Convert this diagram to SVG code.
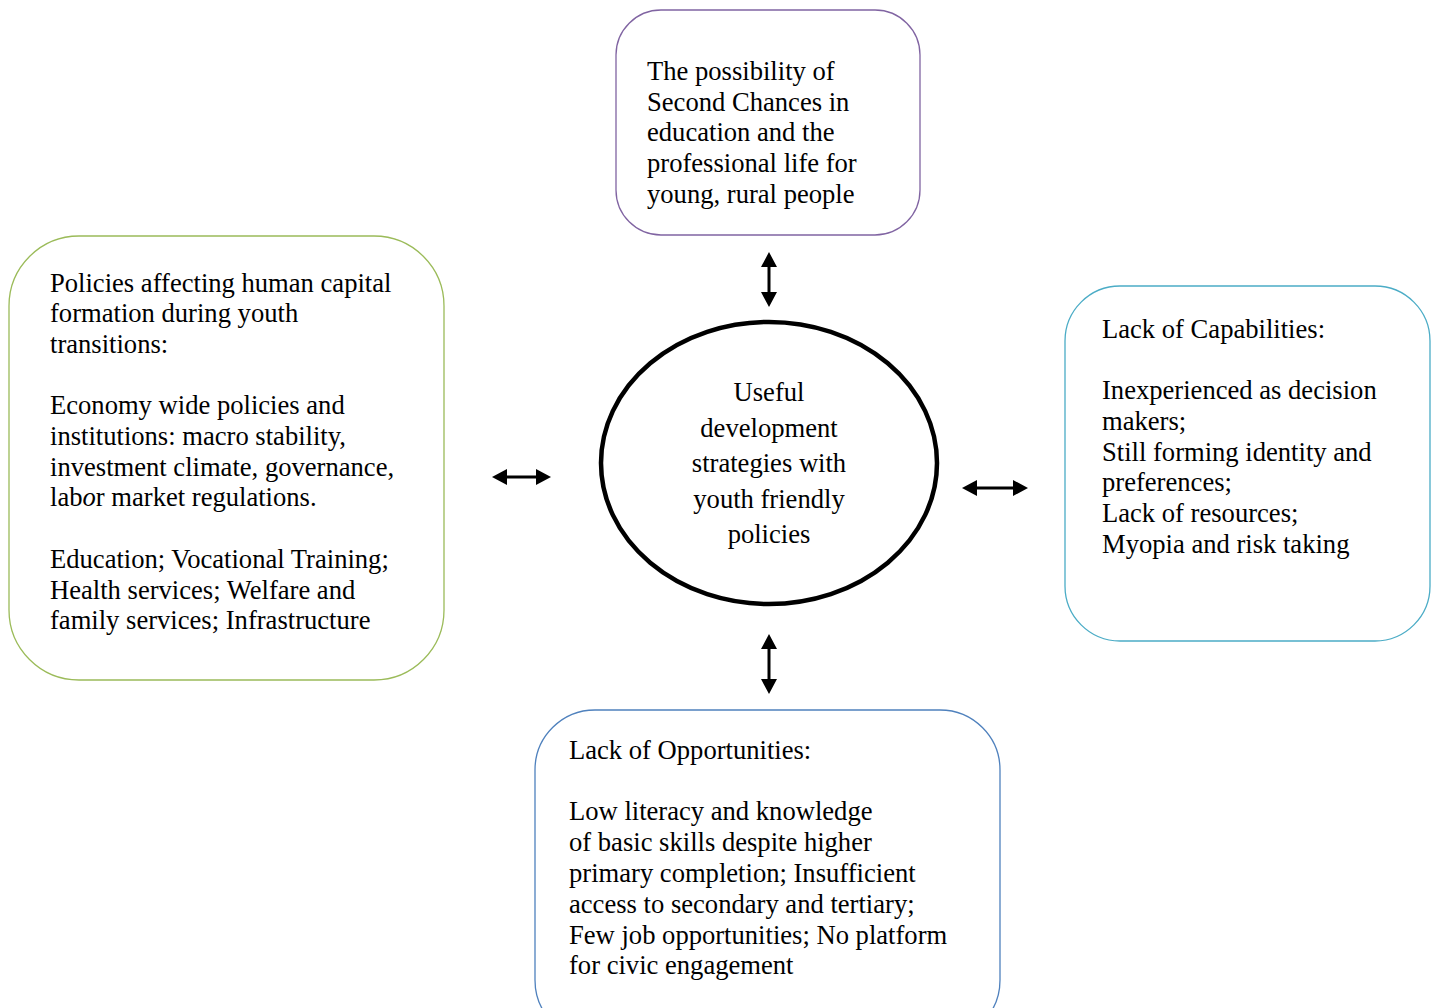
<svg xmlns="http://www.w3.org/2000/svg" width="1437" height="1008" viewBox="0 0 1437 1008">
<style>
.box{fill:#fff;stroke-width:1.3}
.t{font-family:'Liberation Serif','Times New Roman','DejaVu Serif',serif;font-size:26.6px;fill:#000}
.c{text-anchor:middle}
.conn{stroke:#000;stroke-width:3;fill:none}
.head{fill:#000;stroke:none}
</style>
<rect width="1437" height="1008" fill="#fff"/>
<g id="top">
<rect class="box" x="616" y="10" width="304" height="225" rx="45" stroke="#8064a2"/>
<text class="t"><tspan x="647" y="80">The possibility of</tspan><tspan x="647" y="111">Second Chances in</tspan><tspan x="647" y="141">education and the</tspan><tspan x="647" y="172">professional life for</tspan><tspan x="647" y="203">young, rural people</tspan></text>
</g>
<g id="left">
<rect class="box" x="9" y="236" width="435" height="444" rx="70" stroke="#9bbb59"/>
<text class="t"><tspan x="50" y="292">Policies affecting human capital</tspan><tspan x="50" y="322">formation during youth</tspan><tspan x="50" y="353">transitions:</tspan><tspan x="50" y="414">Economy wide policies and</tspan><tspan x="50" y="445">institutions: macro stability,</tspan><tspan x="50" y="476">investment climate, governance,</tspan><tspan x="50" y="506">lab<tspan font-style="italic">o</tspan>r market regulations.</tspan><tspan x="50" y="568">Education; Vocational Training;</tspan><tspan x="50" y="599">Health services; Welfare and</tspan><tspan x="50" y="629">family services; Infrastructure</tspan></text>
</g>
<g id="center">
<ellipse cx="769" cy="463" rx="168" ry="141" fill="#fff" stroke="#000" stroke-width="4.5"/>
<text class="t c"><tspan x="769" y="401">Useful</tspan><tspan x="769" y="437">development</tspan><tspan x="769" y="472">strategies with</tspan><tspan x="769" y="508">youth friendly</tspan><tspan x="769" y="543">policies</tspan></text>
</g>
<g id="right">
<rect class="box" x="1065" y="286" width="365" height="355" rx="55" stroke="#4bacc6"/>
<text class="t"><tspan x="1102" y="338">Lack of Capabilities:</tspan><tspan x="1102" y="399">Inexperienced as decision</tspan><tspan x="1102" y="430">makers;</tspan><tspan x="1102" y="461">Still forming identity and</tspan><tspan x="1102" y="491">preferences;</tspan><tspan x="1102" y="522">Lack of resources;</tspan><tspan x="1102" y="553">Myopia and risk taking</tspan></text>
</g>
<g id="bottom">
<rect class="box" x="535" y="710" width="465" height="330" rx="60" stroke="#4f81bd"/>
<text class="t"><tspan x="569" y="759">Lack of Opportunities:</tspan><tspan x="569" y="820">Low literacy and knowledge</tspan><tspan x="569" y="851">of basic skills despite higher</tspan><tspan x="569" y="882">primary completion; Insufficient</tspan><tspan x="569" y="913">access to secondary and tertiary;</tspan><tspan x="569" y="944">Few job opportunities; No platform</tspan><tspan x="569" y="974">for civic engagement</tspan></text>
</g>
<g id="connectors">
<line class="conn" x1="769" y1="262" x2="769" y2="298"/>
<path class="head" d="M769,252 L777,267 L761,267 z M769,307 L777,292 L761,292 z"/>
<line class="conn" x1="502" y1="477" x2="541" y2="477"/>
<path class="head" d="M492,477 L507,469 L507,485 z M551,477 L536,469 L536,485 z"/>
<line class="conn" x1="971" y1="488" x2="1019" y2="488"/>
<path class="head" d="M962,488 L977,480 L977,496 z M1028,488 L1013,480 L1013,496 z"/>
<line class="conn" x1="769" y1="644" x2="769" y2="684"/>
<path class="head" d="M769,634 L777,649 L761,649 z M769,694 L777,679 L761,679 z"/>
</g>
</svg>
